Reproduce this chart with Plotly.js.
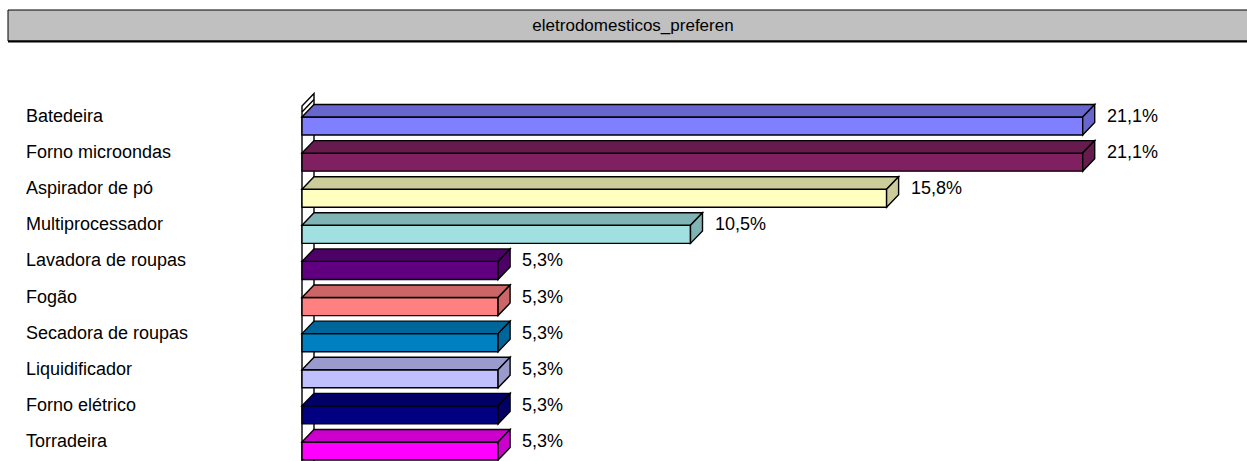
<!DOCTYPE html>
<html>
<head>
<meta charset="utf-8">
<script src="https://cdn.plot.ly/plotly-3.0.1.min.js"></script>
<style>html,body{margin:0;padding:0;background:#fff;}#chart{width:1247px;height:461px;}</style>
</head>
<body>
<div id="chart"></div>
<script>
// ---- data ----
const chartTitle = 'eletrodomesticos_preferen';
const categories = ['Batedeira','Forno microondas','Aspirador de pó','Multiprocessador','Lavadora de roupas','Fogão','Secadora de roupas','Liquidificador','Forno elétrico','Torradeira'];
const values = [21.1, 21.1, 15.8, 10.5, 5.3, 5.3, 5.3, 5.3, 5.3, 5.3];
const frontColors = ['#8080FF','#802060','#FFFFC0','#A0E0E0','#600080','#FF8080','#0080C0','#C0C0FF','#000080','#FF00FF'];
const sideColors  = ['#6666CC','#661A4D','#CCCC9A','#80B3B3','#4D0066','#CC6666','#00669A','#9A9ACC','#000066','#CC00CC'];

// ---- layout geometry (pixels) ----
const W = 1247, H = 461;
const M = {l: 290, r: 0, t: 90, b: 0};
const plotW = W - M.l - M.r, plotH = H - M.t - M.b;
const pxPerX = 37.0;        // pixels per percentage point
const pxPerCat = 36.11;     // pixels per category
const zeroPx = 302;         // pixel of x = 0
const firstCenterPx = 126;  // pixel centre of first bar's front face
const depthX = 12, depthY = 12.5;
const barW = 0.5;
const lineW = 1.4;

const xMin = (M.l - zeroPx) / pxPerX;
const xMax = xMin + plotW / pxPerX;
const yTop = (M.t - firstCenterPx) / pxPerCat;
const yBot = yTop + plotH / pxPerCat;
const dx = depthX / pxPerX, dy = depthY / pxPerCat;
const idx = categories.map((_, i) => i);

const font = '"Liberation Sans", Arial, Helvetica, sans-serif';

const trace = {
  type: 'bar', orientation: 'h',
  x: values, y: idx, width: barW,
  marker: {color: frontColors, line: {color: '#000', width: lineW}},
  hoverinfo: 'skip'
};

const shapes = [];
// left wall
const wallTop = (106 - firstCenterPx) / pxPerCat;
const wallStrip = (112 - firstCenterPx) / pxPerCat;
shapes.push({type: 'path', xref: 'x', yref: 'y', layer: 'below',
  path: `M 0,${yBot + 1} L 0,${wallTop} L ${dx},${wallTop - dy} L ${dx},${yBot + 1} Z`,
  fillcolor: '#FFFFFF', line: {color: '#000', width: lineW}});
shapes.push({type: 'line', xref: 'x', yref: 'y', layer: 'below',
  x0: 0, y0: wallStrip, x1: dx, y1: wallStrip - dy, line: {color: '#000', width: lineW}});

// 3D top and side faces
values.forEach((v, i) => {
  const t = i - barW / 2, b = i + barW / 2;
  shapes.push({type: 'path', xref: 'x', yref: 'y', layer: 'above',
    path: `M 0,${t} L ${dx},${t - dy} L ${v + dx},${t - dy} L ${v},${t} Z`,
    fillcolor: sideColors[i], line: {color: '#000', width: lineW}});
  shapes.push({type: 'path', xref: 'x', yref: 'y', layer: 'above',
    path: `M ${v},${t} L ${v + dx},${t - dy} L ${v + dx},${b - dy} L ${v},${b} Z`,
    fillcolor: sideColors[i], line: {color: '#000', width: lineW}});
});

// title box
const py = p => (H - M.b - p) / plotH;
const pxp = p => (p - M.l) / plotW;
shapes.push({type: 'rect', xref: 'paper', yref: 'paper',
  x0: pxp(8), x1: pxp(1262), y0: py(41), y1: py(10),
  fillcolor: '#C0C0C0', line: {color: '#000', width: 1}});
shapes.push({type: 'line', xref: 'paper', yref: 'paper',
  x0: pxp(8), x1: pxp(1262), y0: py(41.5), y1: py(41.5),
  line: {color: '#000', width: 2}});

const annotations = [];
categories.forEach((c, i) => {
  annotations.push({xref: 'paper', yref: 'y', x: pxp(24), y: i, yshift: 10,
    xanchor: 'left', yanchor: 'middle', text: c, showarrow: false,
    font: {family: font, size: 18, color: '#000'}});
});
values.forEach((v, i) => {
  annotations.push({xref: 'x', yref: 'y', x: v, y: i, xshift: depthX + 10, yshift: 10,
    xanchor: 'left', yanchor: 'middle', text: v.toFixed(1).replace('.', ',') + '%', showarrow: false,
    font: {family: font, size: 18, color: '#000'}});
});

const layout = {
  width: W, height: H,
  margin: M,
  paper_bgcolor: '#FFFFFF', plot_bgcolor: '#FFFFFF',
  showlegend: false,
  title: {text: chartTitle, x: 633 / W, xanchor: 'center', xref: 'container',
    y: 1 - 25.5 / H, yanchor: 'middle', yref: 'container',
    font: {family: font, size: 17, color: '#000'}},
  xaxis: {range: [xMin, xMax], visible: false, fixedrange: true},
  yaxis: {range: [yBot, yTop], visible: false, fixedrange: true},
  shapes: shapes,
  annotations: annotations
};

Plotly.newPlot('chart', [trace], layout, {displayModeBar: false, staticPlot: true});
</script>
</body>
</html>
